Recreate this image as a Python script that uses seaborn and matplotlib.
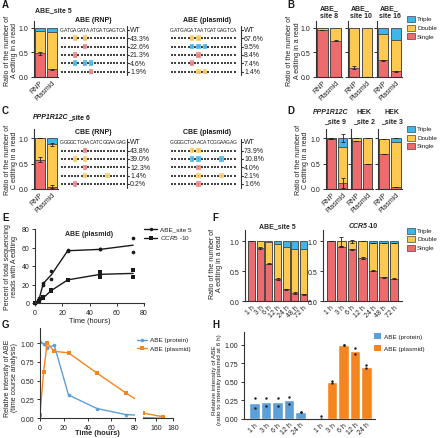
import numpy as np
import pandas as pd
import matplotlib
matplotlib.use("Agg")
import matplotlib.pyplot as plt
import seaborn as sns
from matplotlib.patches import Rectangle
from matplotlib import font_manager

# ---------------- data ----------------
PAIR = ["RNP", "Plasmid"]
STACK_NAMES = ["Triple", "Double", "Single"]

# A
A_single = [0.48, 0.16]
A_double = [0.45, 0.76]
A_triple = [0.06, 0.08]
A_seq = "GATGAGATAATGATGAGTCA"
A_rnp_pct = ["WT", "43.3%", "22.6%", "21.3%", "4.6%", "1.9%"]
A_rnp_edits = [[4, 7], [7], [4], [4, 7, 9], [9]]
A_pl_pct = ["WT", "67.6%", "9.5%", "8.4%", "7.4%", "1.4%"]
A_pl_edits = [[6, 8], [6, 8, 10], [8], [6], [8, 10]]

# B
B_titles = ["ABE_\nsite 8", "ABE_\nsite 10", "ABE_\nsite 16"]
B_single = [[0.96, 0.74], [0.19, 0.00], [0.34, 0.12]]
B_double = [[0.04, 0.26], [0.80, 0.99], [0.54, 0.63]]
B_triple = [[0.00, 0.00], [0.01, 0.01], [0.12, 0.25]]
B_err = [[0.0, 0.01], [0.03, 0.0], [0.01, 0.01]]

# C
C_single = [0.58, 0.04]
C_double = [0.42, 0.84]
C_triple = [0.00, 0.12]
C_seq = "GGGGCTCAACATCGGAAGAG"
C_rnp_pct = ["WT", "43.8%", "39.0%", "12.3%", "1.4%", "0.2%"]
C_rnp_edits = [[7], [4, 7], [7], [7, 14], [4]]
C_pl_pct = ["WT", "73.9%", "10.8%", "4.0%", "2.1%", "1.6%"]
C_pl_edits = [[6, 8], [6, 8, 15], [8], [8, 15], [8]]

# D
D_titles_1 = ["PPP1R12C", "HEK", "HEK"]
D_titles_2 = ["_site 9", "_site 2", "_site 3"]
D_single = [[0.99, 0.12], [0.94, 0.49], [0.68, 0.04]]
D_double = [[0.01, 0.70], [0.06, 0.51], [0.31, 0.89]]
D_triple = [[0.00, 0.18], [0.00, 0.00], [0.00, 0.07]]
D_err = [[0.0, 0.10], [0.0, 0.0], [0.0, 0.0]]

# E
E_time = [0, 3, 6, 12, 24, 48, 72]
E_site5_r1 = [0, 5, 20, 35, 57, 58, 70]
E_site5_r2 = [0, 3, 22, 26, 56, 58, 55]
E_ccr5_r1 = [0, 2, 6, 13, 25, 34, 36]
E_ccr5_r2 = [0, 1, 5, 14, 25, 28, 28]

# F
F_time = ["1 h", "3 h", "6 h", "12 h", "24 h", "48 h", "72 h"]
F1_single = [1.00, 0.89, 0.63, 0.37, 0.20, 0.14, 0.12]
F1_double = [0.00, 0.11, 0.36, 0.58, 0.70, 0.73, 0.75]
F1_triple = [0.00, 0.00, 0.01, 0.05, 0.10, 0.13, 0.13]
F2_single = [1.00, 0.91, 0.87, 0.72, 0.51, 0.40, 0.38]
F2_double = [0.00, 0.09, 0.13, 0.28, 0.47, 0.57, 0.59]
F2_triple = [0.00, 0.00, 0.00, 0.00, 0.02, 0.03, 0.03]

# G
G_time = [0, 3, 6, 12, 24, 48, 72, 96, 144, 168]
G_protein = [1.02, 0.99, 0.94, 0.97, 0.31, 0.13, 0.05, 0.03, 0.01, 0.00]
G_plasmid = [0.05, 0.61, 1.00, 0.89, 0.87, 0.60, 0.34, 0.10, 0.07, 0.02]

# H
H_labels = ["1 h", "3 h", "6 h", "12 h", "24 h"]
H_protein_r1 = [0.28, 0.28, 0.28, 0.30, 0.10]
H_protein_r2 = [0.15, 0.18, 0.17, 0.20, 0.10]
H_plasmid_r1 = [0.04, 0.51, 1.00, 0.95, 0.73]
H_plasmid_r2 = [0.00, 0.48, 1.00, 0.88, 0.68]

# ---------------- style ----------------
RED = "#EC6B6D"
YEL = "#FDC94F"
BLU = "#3EB6E7"
LRED = "#F49A9B"
LYEL = "#FCD67A"
LBLU = "#62C6EE"
PBLUE = "#5E9FD8"
PORANGE = "#F4851F"
EDGE = "#454545"
TXT = "#222222"

sns.set_theme(style="ticks")
plt.rcParams["font.family"] = ["Liberation Sans", "DejaVu Sans"]
plt.rcParams.update({
    "axes.linewidth": 0.8, "axes.edgecolor": "#333333",
    "xtick.color": "#333333", "ytick.color": "#333333",
    "xtick.labelcolor": TXT, "ytick.labelcolor": TXT,
    "mathtext.fontset": "custom", "mathtext.it": "Liberation Sans:italic",
    "mathtext.rm": "Liberation Sans",
})
_names = {f.name for f in font_manager.fontManager.ttflist}
SEQ_FONT = "Liberation Sans Narrow" if "Liberation Sans Narrow" in _names else "Liberation Sans"
SEQ_FS = 4.0 if SEQ_FONT == "Liberation Sans Narrow" else 3.6

W, H = 440, 439
fig = plt.figure(figsize=(W / 100, H / 100), dpi=100)


def pax(x0, y0, x1, y1):
    return fig.add_axes([x0 / W, 1 - y1 / H, (x1 - x0) / W, (y1 - y0) / H])


ov = fig.add_axes([0, 0, 1, 1], zorder=10)
ov.set_xlim(0, W)
ov.set_ylim(H, 0)
ov.axis("off")
ov.patch.set_alpha(0)

FS = 5.0      # ticks / axis labels
FT = 5.0      # bold titles
FL = 4.6      # legends


def stacked(ax, cats, single, double, triple):
    s = np.asarray(single, float)
    d = s + np.asarray(double, float)
    t = d + np.asarray(triple, float)
    for vals, col in ((t, BLU), (d, YEL), (s, RED)):
        sns.barplot(x=cats, y=vals, color=col, saturation=1, width=0.8,
                    edgecolor=EDGE, linewidth=0.6, errorbar=None, ax=ax)
    return s, d, t


def style_stack(ax, top, ylab=True):
    ax.set_ylim(0, top)
    ax.set_yticks([0, 0.5, 1.0])
    ax.set_yticklabels(["0.0", "0.5", "1.0"] if ylab else [])
    ax.set_xlabel("")
    ax.set_ylabel("")
    ax.tick_params(axis="y", length=2.5, width=0.7, pad=1.5, labelsize=FS)
    ax.tick_params(axis="x", length=0, pad=1.5, labelsize=FS)
    for lab in ax.get_xticklabels():
        lab.set_rotation(45)
        lab.set_ha("right")
        lab.set_rotation_mode("anchor")
    sns.despine(ax=ax)


def errs(ax, tops, e):
    ax.errorbar(np.arange(len(tops)), tops, yerr=e, fmt="none", ecolor="#222",
                elinewidth=0.6, capsize=1.4, capthick=0.6, zorder=5)


def stack_legend(x, ys):
    for lab, col, y in zip(STACK_NAMES, (BLU, YEL, RED), ys):
        ov.add_patch(Rectangle((x, y - 3), 8, 6, fc=col, ec=EDGE, lw=0.5))
        ov.text(x + 10, y, lab, va="center", ha="left", fontsize=FL, color=TXT)


def ylab(x, y, s, fs=FS):
    ov.text(x, y, s, rotation=90, ha="center", va="center", fontsize=fs,
            color=TXT, linespacing=1.15, multialignment="center")


def letter(x, y, s):
    ov.text(x, y, s, fontsize=7, fontweight="bold", ha="left", va="center", color="k")


def mixed(x, y, first, second, ha="left", fs=FT):
    t1 = ov.text(x, y, first, fontsize=fs, fontweight="bold", fontstyle="italic",
                 ha=ha, va="center", color="k")
    ov.annotate(second, xy=(1, 0.5), xycoords=t1, fontsize=fs, fontweight="bold",
                ha="left", va="center", color="k")


KCOL = {1: LRED, 2: LYEL, 3: LBLU}
KDARK = {1: "#C94A4C", 2: "#D99A1A", 3: "#1E86B8"}


def alignment(x0, dx, ys, seq, edits, labels, box_letter, title, tx, brk):
    ov.text(tx, ys[0] - 10, title, ha="center", va="center", fontsize=FT,
            fontweight="bold", color="k")
    for i, ch in enumerate(seq):
        ov.text(x0 + i * dx, ys[0], ch, ha="center", va="center",
                fontsize=SEQ_FS, family=[SEQ_FONT, "DejaVu Sans"], color=TXT)
    for r, ed in enumerate(edits):
        y = ys[r + 1]
        k = len(ed)
        dxs = [x0 + i * dx for i in range(len(seq)) if i not in ed]
        ov.scatter(dxs, [y] * len(dxs), s=0.8, marker="s", color="#444",
                   linewidths=0)
        for i in ed:
            cx = x0 + i * dx
            ov.add_patch(Rectangle((cx - 2.1, y - 2.8), 4.2, 5.6, fc=KCOL[k],
                                   ec="none"))
            ov.text(cx, y, box_letter, ha="center", va="center", fontsize=3.0,
                    color=KDARK[k])
    ov.plot([brk, brk], [ys[0] - 3.5, ys[-1] + 3.5], color="#333", lw=0.8)
    for y, lab in zip(ys, labels):
        ov.plot([brk, brk + 2.2], [y, y], color="#333", lw=0.8)
        ov.text(brk + 3, y, lab, ha="left", va="center", fontsize=FS, color=TXT)


# ---------------- Panel A ----------------
letter(2, 5, "A")
ov.text(35, 11, "ABE_site 5", fontsize=FT, fontweight="bold", ha="left", va="center")
axA = pax(34, 22, 58, 78)
s, d, t = stacked(axA, PAIR, A_single, A_double, A_triple)
errs(axA, s, [0.03, 0.01])
style_stack(axA, 1.14)
ylab(11, 51, "Ratio of the number of\nA edting in a read")
A_ys = [30.5, 39.2, 47.5, 55.8, 64.1, 72.5]
alignment(62, 3.25, A_ys, A_seq, A_rnp_edits, A_rnp_pct, "G", "ABE (RNP)", 93, 127)
alignment(172, 3.3, A_ys, A_seq, A_pl_edits, A_pl_pct, "G", "ABE (plasmid)", 207, 241)

# ---------------- Panel B ----------------
letter(287, 5, "B")
ylab(293.5, 51, "Ratio of the number of\nA editing in a read")
B_boxes = [(316, 342), (348, 373), (377, 402)]
for k, (x0, x1) in enumerate(B_boxes):
    ax = pax(x0, 22, x1, 78)
    s, d, t = stacked(ax, PAIR, B_single[k], B_double[k], B_triple[k])
    errs(ax, s, B_err[k])
    style_stack(ax, 1.14, ylab=(k == 0))
    ov.text((x0 + x1) / 2, 12.5, B_titles[k], fontsize=FT, fontweight="bold",
            ha="center", va="center", linespacing=1.15)
stack_legend(407, [20, 28.5, 37])

# ---------------- Panel C ----------------
letter(2, 111, "C")
mixed(33, 118, "PPP1R12C", "_site 6")
axC = pax(34, 130, 58, 190)
s, d, t = stacked(axC, PAIR, C_single, C_double, C_triple)
errs(axC, s, [0.05, 0.03])
errs(axC, d, [0.0, 0.03])
style_stack(axC, 1.18)
ylab(11, 160, "Ratio of the number of\nC editing in a read")
C_ys = [143, 151.5, 160, 168.3, 176.7, 185]
alignment(62, 3.25, C_ys, C_seq, C_rnp_edits, C_rnp_pct, "T", "CBE (RNP)", 93, 127)
alignment(172, 3.3, C_ys, C_seq, C_pl_edits, C_pl_pct, "T", "CBE (plasmid)", 207, 241)

# ---------------- Panel D ----------------
letter(287, 111, "D")
ylab(302, 160, "Ratio of the number of\nC editing in a read")
D_boxes = [(326, 348), (351, 373), (378, 402)]
D_cx = [331, 364, 392]
for k, (x0, x1) in enumerate(D_boxes):
    ax = pax(x0, 130, x1, 190)
    s, d, t = stacked(ax, PAIR, D_single[k], D_double[k], D_triple[k])
    errs(ax, s, D_err[k])
    errs(ax, t, [0.0, 0.08] if k == 0 else [0.0, 0.0])
    style_stack(ax, 1.18, ylab=(k == 0))
    ov.text(D_cx[k], 113, D_titles_1[k], fontsize=FT, fontweight="bold",
            fontstyle="italic" if k == 0 else "normal", ha="center", va="center")
    ov.text(D_cx[k] + (4 if k == 0 else 0), 122, D_titles_2[k], fontsize=FT,
            fontweight="bold", ha="center", va="center")
stack_legend(407, [130, 138.5, 147])

# ---------------- Panel E ----------------
letter(2, 218, "E")
axE = pax(35, 230, 144, 304)
e_t = E_time + E_time
e5 = E_site5_r1 + E_site5_r2
ec = E_ccr5_r1 + E_ccr5_r2
sns.lineplot(x=e_t, y=e5, estimator="mean", errorbar=None, color="k", lw=1.0, ax=axE)
sns.lineplot(x=e_t, y=ec, estimator="mean", errorbar=None, color="k", lw=1.0, ax=axE)
sns.scatterplot(x=e_t, y=e5, marker="o", s=7, color="k", linewidth=0, ax=axE, clip_on=False)
sns.scatterplot(x=e_t, y=ec, marker="s", s=6, color="k", linewidth=0, ax=axE, clip_on=False)
axE.set_xlim(0, 80)
axE.set_ylim(0, 80)
axE.set_xticks([0, 20, 40, 60, 80])
axE.set_yticks([0, 20, 40, 60, 80])
axE.tick_params(length=2.5, width=0.7, pad=1.5, labelsize=FS)
axE.set_xlabel("Time (hours)", fontsize=5.3, labelpad=1, color=TXT)
axE.set_ylabel("")
axE.set_title("ABE (plasmid)", fontsize=FT, fontweight="bold", y=0.92, pad=0)
sns.despine(ax=axE)
ylab(11, 267, "Percent of total sequencing\nreads with A editing")
for y, mk, lab in ((230, "o", "ABE_site 5"), (238.5, "s", r"$\it{CCR5}$ -10")):
    ov.plot([144, 157], [y, y], color="k", lw=1.0)
    ov.plot([150.5], [y], marker=mk, color="k", ms=2.5, mew=0)
    ov.text(160, y, lab, fontsize=FL, va="center", ha="left", color=TXT)

# ---------------- Panel F ----------------
letter(212, 218, "F")
ylab(216, 264, "Ratio of the number of\nA editing in a read")
F_boxes = [(245, 310), (323, 402)]
F_sets = [(F1_single, F1_double, F1_triple), (F2_single, F2_double, F2_triple)]
for k, (x0, x1) in enumerate(F_boxes):
    ax = pax(x0, 231, x1, 302.3)
    s, d, t = stacked(ax, F_time, *F_sets[k])
    errs(ax, s, [0.0, 0.01, 0.01, 0.02, 0.01, 0.01, 0.01])
    if k == 1:
        errs(ax, d, [0.0, 0.07, 0.03, 0.0, 0.0, 0.0, 0.0])
    style_stack(ax, 1.19)
ov.text(277.5, 227, "ABE_site 5", fontsize=FT, fontweight="bold", ha="center", va="center")
ov.text(368, 227, "CCR5", fontsize=FT, fontweight="bold", fontstyle="italic",
        ha="right", va="center")
ov.text(368, 227, "-10", fontsize=FT, fontweight="bold", ha="left", va="center")
stack_legend(407, [231.5, 240, 248.5])

# ---------------- Panel G ----------------
letter(2, 325, "G")
axG1 = pax(40, 329, 135, 419.3)
axG2 = pax(143, 329, 173, 419.3)
for ax in (axG1, axG2):
    sns.lineplot(x=G_time, y=G_protein, color=PBLUE, lw=1.0, marker="o", ms=2.6,
                 mew=0, ax=ax)
    sns.lineplot(x=G_time, y=G_plasmid, color=PORANGE, lw=1.0, marker="s", ms=2.6,
                 mew=0, ax=ax)
    ax.set_ylim(0, 1.2)
    ax.tick_params(length=2.5, width=0.7, pad=1.5, labelsize=FS)
    ax.set_xlabel("")
    ax.set_ylabel("")
axG1.set_xlim(0, 80)
axG1.set_xticks([0, 20, 40, 60, 80])
axG1.set_yticks([0, 0.25, 0.5, 0.75, 1.0])
axG1.set_yticklabels(["0.00", "0.25", "0.50", "0.75", "1.00"])
axG2.set_xlim(144, 180)
axG2.set_xticks([160, 180])
axG2.set_yticks([])
sns.despine(ax=axG1)
sns.despine(ax=axG2, left=True)
ov.text(97, 434, "Time (hours)", fontsize=5.3, fontweight="bold", ha="center", va="center")
ylab(11, 378, "Relative intensity of ABE\n(time course analysis)")
for y, col, mk, lab in ((340.7, PBLUE, "o", "ABE (protein)"),
                        (349.3, PORANGE, "s", "ABE (plasmid)")):
    ov.plot([136.5, 147], [y, y], color=col, lw=1.0)
    ov.plot([141.7], [y], marker=mk, color=col, ms=2.6, mew=0)
    ov.text(150.5, y, lab, fontsize=FL, va="center", ha="left", color=TXT)

# ---------------- Panel H ----------------
letter(212, 325, "H")
axH = pax(244, 333, 375, 420)
h_pos = list(range(5)) + [p + 5.75 for p in range(5)]
dfH = pd.DataFrame({
    "pos": h_pos * 2,
    "val": H_protein_r1 + H_plasmid_r1 + H_protein_r2 + H_plasmid_r2,
    "grp": (["ABE (protein)"] * 5 + ["ABE (plasmid)"] * 5) * 2,
})
sns.barplot(data=dfH, x="pos", y="val", hue="grp", native_scale=True, dodge=False,
            errorbar=None, width=0.92, saturation=1,
            palette={"ABE (protein)": PBLUE, "ABE (plasmid)": PORANGE},
            legend=False, ax=axH)
sns.scatterplot(data=dfH, x="pos", y="val", color="k", s=3, linewidth=0, ax=axH)
axH.set_xlim(-0.94, 10.5)
axH.set_ylim(0, 1.17)
axH.set_xticks(h_pos)
axH.set_xticklabels(H_labels * 2)
axH.set_yticks([0, 0.25, 0.5, 0.75, 1.0])
axH.set_yticklabels(["0.00", "0.25", "0.50", "0.75", "1.00"])
axH.tick_params(axis="y", length=2.5, width=0.7, pad=1.5, labelsize=FS)
axH.tick_params(axis="x", length=0, pad=1.5, labelsize=FS)
for lab in axH.get_xticklabels():
    lab.set_rotation(45)
    lab.set_ha("right")
    lab.set_rotation_mode("anchor")
axH.set_xlabel("")
axH.set_ylabel("")
sns.despine(ax=axH)
ylab(217, 380, "Relative intensity of ABE\n(ratio to intensity plasmid at 6 h)", fs=4.6)
for y, col, lab in ((337.3, PBLUE, "ABE (protein)"), (349.3, PORANGE, "ABE (plasmid)")):
    ov.add_patch(Rectangle((374, y - 3), 7, 6, fc=col, ec="none"))
    ov.text(384, y, lab, fontsize=FL, va="center", ha="left", color=TXT)

fig.savefig("out.png", dpi=100)
